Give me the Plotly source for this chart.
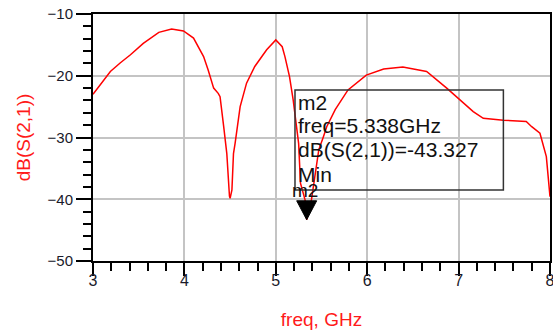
import plotly.graph_objects as go

# Curve data: dB(S(2,1)) vs frequency (GHz)
freq = [3.00, 3.08, 3.19, 3.30, 3.41, 3.55, 3.72, 3.86, 3.99, 4.10, 4.21, 4.26, 4.32, 4.37,
        4.39, 4.43, 4.464, 4.493, 4.50, 4.52, 4.537, 4.555, 4.61, 4.68, 4.77, 4.90, 5.00,
        5.07, 5.10, 5.15, 5.19, 5.25, 5.27, 5.32, 5.338, 5.39, 5.43, 5.47, 5.52, 5.557,
        5.65, 5.79, 5.99, 6.18, 6.39, 6.65, 6.87, 7.01, 7.16, 7.27, 7.49, 7.74, 7.80,
        7.89, 7.96, 8.00]
db = [-23.0, -21.5, -19.3, -17.9, -16.6, -14.75, -12.97, -12.43, -12.75, -13.9, -16.9, -19.07,
      -22.0, -22.85, -23.4, -28.25, -32.6, -39.5, -39.85, -38.5, -32.6, -30.9, -25.0, -21.2,
      -18.5, -15.8, -14.2, -15.3, -16.9, -20.15, -23.9, -31.0, -37.4, -40.1, -43.327, -40.1,
      -35.8, -32.0, -29.9, -28.25, -25.5, -22.3, -19.9, -18.9, -18.6, -19.3, -22.0, -23.9,
      -25.8, -26.9, -27.2, -27.4, -28.25, -29.3, -33.1, -39.6]

x_ticks = [3, 4, 5, 6, 7, 8]
y_ticks = [-50, -40, -30, -20, -10]

marker_name = "m2"
marker_freq = 5.338
marker_db = -43.327
marker_lines = ["m2", "freq=5.338GHz", "dB(S(2,1))=-43.327", "Min"]

FONT = "Liberation Sans, Arial, sans-serif"

fig = go.Figure()
fig.add_trace(go.Scatter(x=freq, y=db, mode="lines",
                         line=dict(color="#ff0000", width=1.5),
                         hoverinfo="skip", showlegend=False))

axis_common = dict(
    showline=True, linecolor="black", linewidth=2, mirror=True,
    ticks="outside", tickcolor="black", tickwidth=2,
    showgrid=True, gridcolor="#c4c4c4", gridwidth=1.5,
    zeroline=False, automargin=False, ticklabeloverflow="allow",
)

fig.update_xaxes(range=[3, 8], tickvals=x_ticks, ticklen=13, ticklabelstandoff=-9,
                 tickfont=dict(family=FONT, size=16, color="#1a1a2a"),
                 minor=dict(dtick=0.2, ticklen=8, tickcolor="black", tickwidth=1.5,
                            ticks="outside", showgrid=False),
                 title=dict(text="freq, GHz", font=dict(family=FONT, size=19, color="#ff1a1a"),
                            standoff=24),
                 **axis_common)
fig.update_yaxes(range=[-50, -10], tickvals=y_ticks, ticklen=15,
                 tickfont=dict(family=FONT, size=15, color="#1a1a2a"),
                 minor=dict(dtick=2, ticklen=8, tickcolor="black", tickwidth=1.5,
                            ticks="outside", showgrid=False),
                 title=dict(text="dB(S(2,1))", font=dict(family=FONT, size=19, color="#ff1a1a"),
                            standoff=12),
                 **axis_common)

# Marker readout box
fig.add_shape(type="rect", xref="x", yref="y", x0=5.21, x1=7.49, y0=-22.3, y1=-38.5,
              line=dict(color="#333333", width=1.5), fillcolor="rgba(0,0,0,0)")

line_y = [-24.4, -28.1, -32.0, -36.0]
for txt, yy in zip(marker_lines, line_y):
    fig.add_annotation(x=5.222, y=yy, xref="x", yref="y", text=txt, showarrow=False,
                       xanchor="left", yanchor="middle",
                       font=dict(family=FONT, size=21, color="#111111"))

# Marker label and triangle
fig.add_annotation(x=5.157, y=-38.6, xref="x", yref="y", text=marker_name, showarrow=False,
                   xanchor="left", yanchor="middle",
                   font=dict(family=FONT, size=19, color="#111111"))
fig.add_shape(type="path", xref="x", yref="y", xsizemode="pixel", ysizemode="pixel",
              xanchor=marker_freq, yanchor=marker_db,
              path="M -10,19 L 10,19 L 0,0 Z", fillcolor="black", line=dict(color="black", width=1))

fig.update_layout(width=553, height=332, margin=dict(l=93, r=3, t=14, b=71),
                  paper_bgcolor="white", plot_bgcolor="white",
                  font=dict(family=FONT))

# remove the browser's default 8px body margin so the figure fills the window
fig.write_html("out.html", config={"displayModeBar": False},
               post_script="document.body.style.margin='0';")
